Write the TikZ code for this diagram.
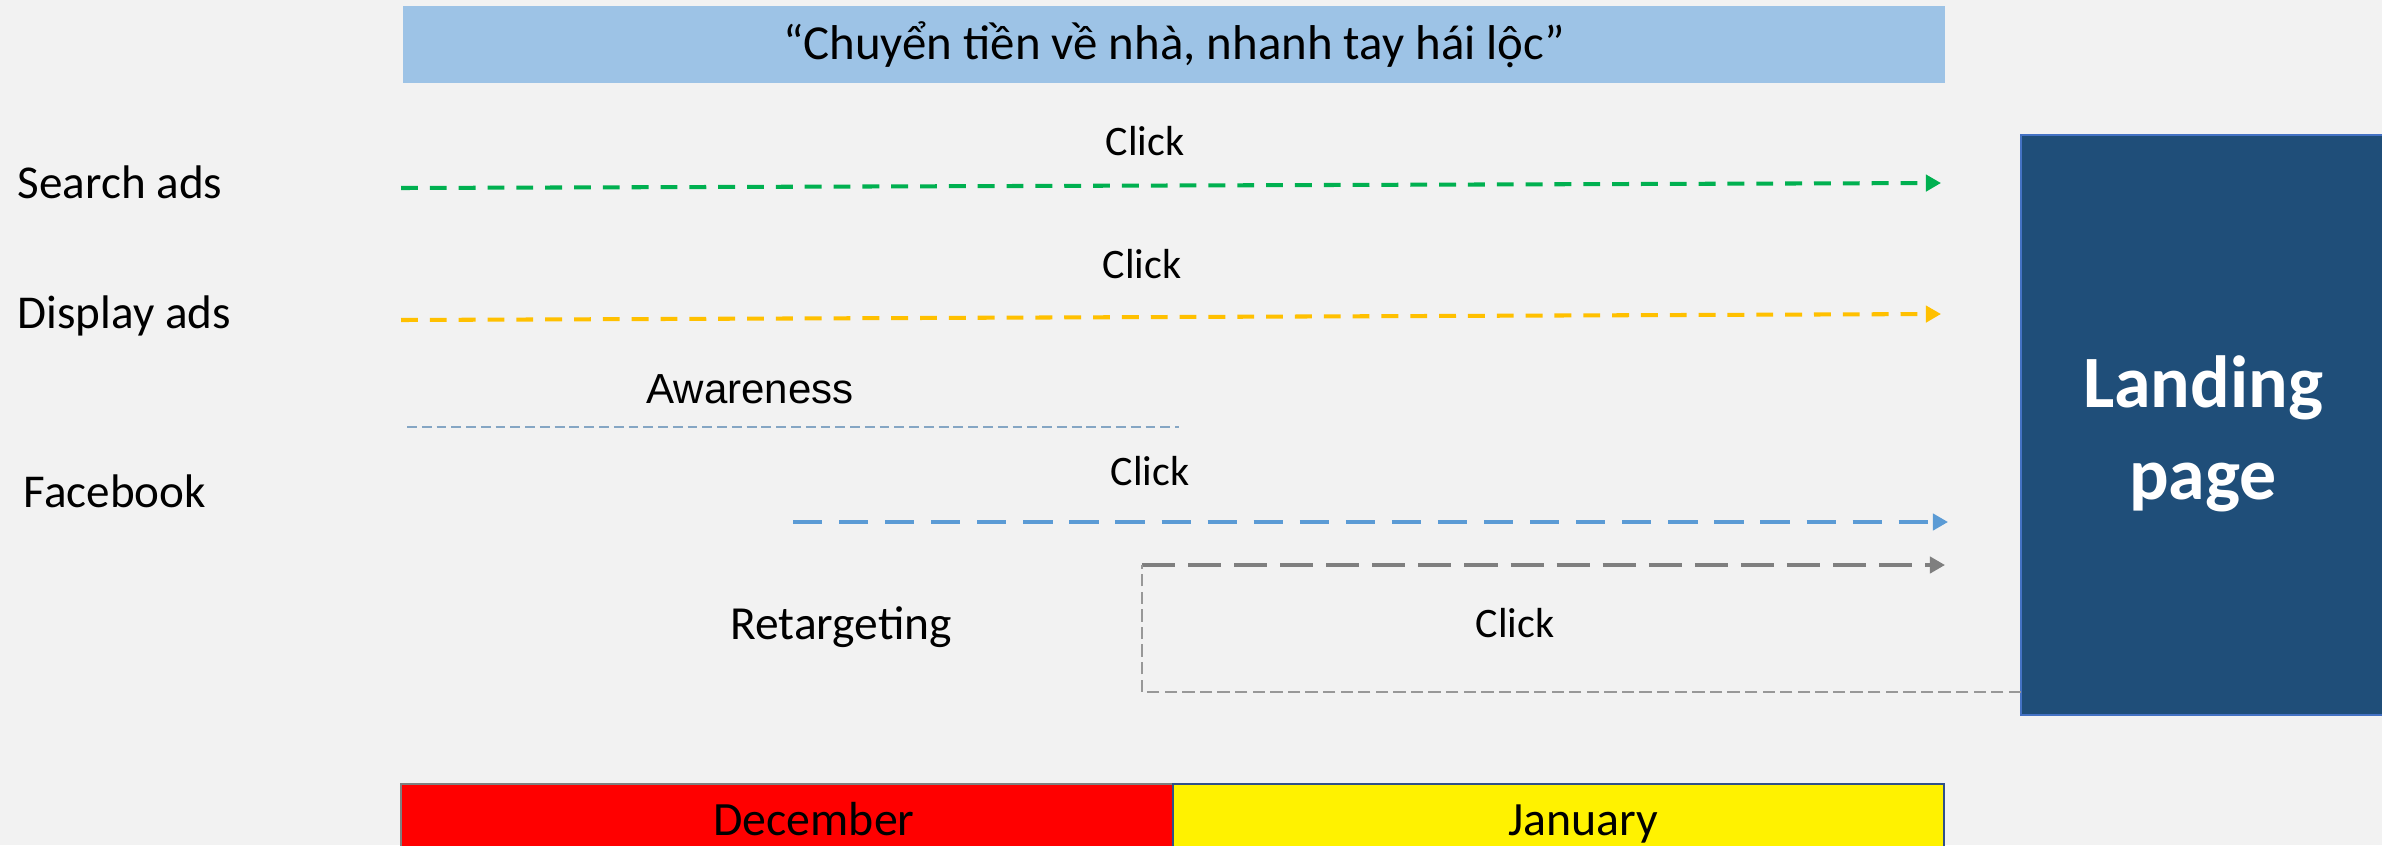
\documentclass[tikz,border=0pt]{standalone}
\usepackage{fontspec}
\setmainfont{Carlito}
\newfontfamily\arialfont{Liberation Sans}
\usetikzlibrary{arrows.meta}
\definecolor{bgrey}{HTML}{F2F2F2}
\definecolor{headblue}{HTML}{9DC3E6}
\definecolor{srchgreen}{HTML}{00B050}
\definecolor{dispgold}{HTML}{FFC000}
\definecolor{fbblue}{HTML}{5B9BD5}
\definecolor{rtgrey}{HTML}{7F7F7F}
\definecolor{lpblue}{HTML}{1F4E79}
\definecolor{lpedge}{HTML}{4472C4}
\tikzset{>={Triangle[length=4.3pt,width=4.6pt]}}
\tikzset{
  chan/.style={anchor=west, inner sep=0pt, font=\fontsize{13.4}{16}\selectfont},
  click/.style={inner sep=0pt, font=\fontsize{11.95}{14}\selectfont},
  month/.style={minimum height=0.74cm, inner sep=0pt, line width=0.45pt},
  monthtext/.style={inner sep=0pt, text height=1.5ex, text depth=0.25ex, font=\fontsize{13.6}{16}\selectfont},
  fat/.style={line width=1.15pt, ->}
}

\begin{document}
\begin{tikzpicture}[x=0.01cm, y=-0.01cm]
\clip (0,0) rectangle (2382,845);
\fill[bgrey] (0,0) rectangle (2382,845);
% slogan
\node[fill=headblue, minimum width=15.42cm, minimum height=0.77cm, inner sep=0pt,
  font=\fontsize{13.9}{16}\selectfont] (slogan) at (1174,44.5) {“Chuyển tiền về nhà, nhanh tay hái lộc”};
% channels
\node[chan] (search) at (17,182) {Search ads};
\node[chan] (display) at (17,316) {Display ads};
\node[chan] (fb) at (23,491) {Facebook};
\node[inner sep=0pt, font=\fontsize{13.5}{16}\selectfont] (retarget) at (841,627) {Retargeting};
% landing page
\node[fill=lpblue, draw=lpedge, line width=0.6pt, minimum width=3.64cm, minimum height=5.8cm] (landing) at (2203,425) {};
\node[align=center, text=white, font=\bfseries\fontsize{21}{26}\selectfont] (lptext) at ([yshift=-0.09cm]landing.center) {Landing\\page};
% arrows
\coordinate (s0) at (401,188); \coordinate (s1) at (1941,183);
\coordinate (d0) at (401,320); \coordinate (d1) at (1941,314);
\coordinate (f0) at (793,522); \coordinate (f1) at (1948,522);
\coordinate (r0) at (1142,565); \coordinate (r1) at (1945,565);
\coordinate (back) at (2021,692);
\draw[fat, srchgreen, dash pattern=on 4.8pt off 3.4pt] (s0) -- (s1);
\draw[fat, dispgold, dash pattern=on 4.8pt off 3.4pt] (d0) -- (d1);
\draw[fat, fbblue, dash pattern=on 8.3pt off 4.8pt] (f0) -- (f1);
\draw[fat, rtgrey, dash pattern=on 9.4pt off 3.7pt] (r0) -- (r1);
\draw[headblue!85!black, line width=0.45pt, dash pattern=on 2.8pt off 1.4pt] (407,427) -- (1179,427);
\draw[rtgrey!80, line width=0.45pt, dash pattern=on 3.5pt off 1.5pt] (back) -| (r0);
% labels
\node[click] (c1) at (1145,141) {Click};
\node[click] (c2) at (1142,264) {Click};
\node[click, font=\arialfont\fontsize{11.95}{14}\selectfont] (aware) at (750,389) {Awareness};
\node[click] (c3) at (1150,471) {Click};
\node[click] (c4) at (1515,623) {Click};
% months
\node[month, fill=red, draw=rtgrey, minimum width=7.72cm] (dec) at (787,821) {};
\node[month, fill=yellow, draw=lpedge!70!black, minimum width=7.71cm] (jan) at (1558.5,821) {};
\node[monthtext] (dectext) at (814,825) {December};
\node[monthtext] (jantext) at (1583,825) {January};
\end{tikzpicture}
\end{document}
